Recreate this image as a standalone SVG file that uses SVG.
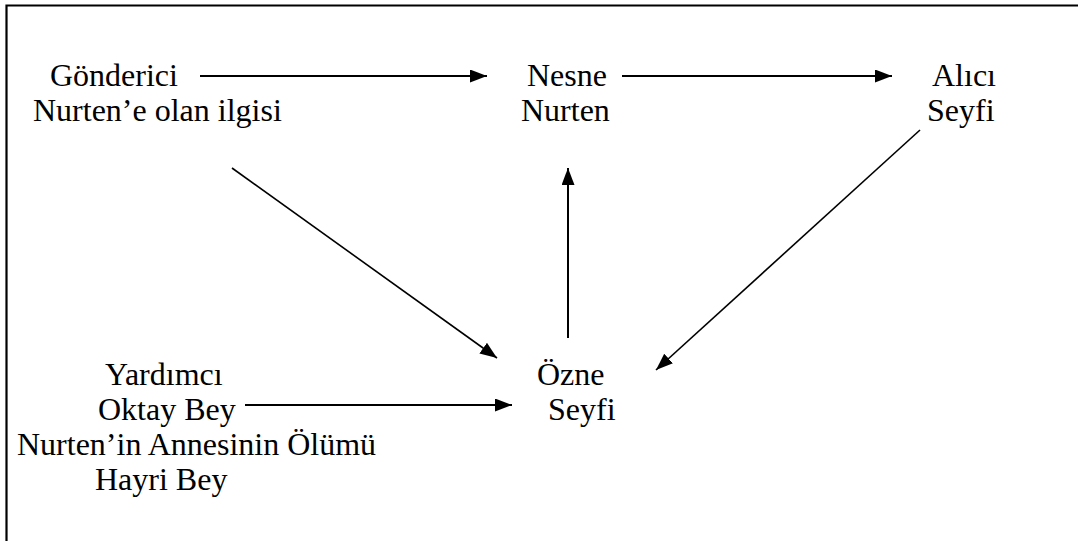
<svg xmlns="http://www.w3.org/2000/svg" width="1079" height="541" viewBox="0 0 1079 541">
<style>
text{font-family:'Liberation Serif',Tinos,'Times New Roman','DejaVu Serif',serif;font-size:32px;fill:#000}
.c{stroke:#000;stroke-width:2;fill:none;marker-end:url(#ah)}
.d{stroke:#000;stroke-width:1.6;fill:none;marker-end:url(#ah)}
</style>
<defs>
<marker id="ah" markerUnits="userSpaceOnUse" markerWidth="18" markerHeight="14" refX="17" refY="6.5" orient="auto">
<path d="M0,0 L17,6.5 L0,13 z" fill="#000"/>
</marker>
</defs>
<rect width="1079" height="541" fill="#fff"/>
<path d="M6.5,541 V5.5 H1078" stroke="#000" stroke-width="2.2" fill="none"/>
<g id="gonderici" font-family="Liberation Serif, serif"><text x="50" y="86">Gönderici</text><text x="33" y="121">Nurten’e olan ilgisi</text></g>
<g id="nesne" font-family="Liberation Serif, serif"><text x="527" y="86">Nesne</text><text x="521" y="121">Nurten</text></g>
<g id="alici" font-family="Liberation Serif, serif"><text x="932" y="86">Alıcı</text><text x="927" y="121">Seyfi</text></g>
<g id="ozne" font-family="Liberation Serif, serif"><text x="537" y="385">Özne</text><text x="548" y="420">Seyfi</text></g>
<g id="yardimci" font-family="Liberation Serif, serif"><text x="105" y="385">Yardımcı</text><text x="98" y="420">Oktay Bey</text><text x="17" y="455">Nurten’in Annesinin Ölümü</text><text x="95" y="490">Hayri Bey</text></g>
<g id="connectors">
<line class="c" x1="200" y1="76" x2="487" y2="76"/>
<line class="c" x1="622" y1="76" x2="892" y2="76"/>
<line class="d" x1="232" y1="168" x2="497" y2="358"/>
<line class="c" x1="568" y1="338" x2="568" y2="168"/>
<line class="d" x1="920" y1="130" x2="656" y2="370"/>
<line class="c" x1="245" y1="405" x2="512" y2="405"/>
</g>
</svg>
